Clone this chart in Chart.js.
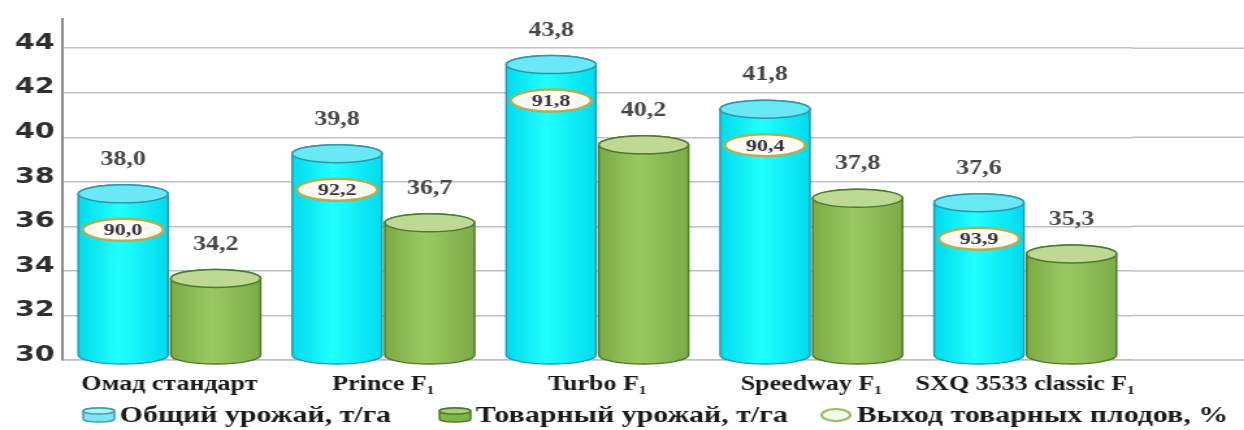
<!DOCTYPE html>
<html>
<head>
<meta charset="utf-8">
<script src="https://cdn.jsdelivr.net/npm/chart.js@4.4.0/dist/chart.umd.min.js"></script>
<style>
html, body { margin: 0; padding: 0; background: #fff; overflow: hidden; }
#wrap { width: 957px; height: 430px; transform: scaleX(1.3); transform-origin: 0 0; }
</style>
</head>
<body>
<div id="wrap"><canvas id="barChart" width="957" height="430"></canvas></div>
<script>
// данные диаграммы
var categories = ["Омад стандарт", "Prince F₁", "Turbo F₁", "Speedway F₁", "SXQ 3533 classic F₁"]
var total_yield = [38.0, 39.8, 43.8, 41.8, 37.6]
var market_yield = [34.2, 36.7, 40.2, 37.8, 35.3]
var market_share = [90.0, 92.2, 91.8, 90.4, 93.9]
var y_ticks = [30, 32, 34, 36, 38, 40, 42, 44]
var series_names = ["Общий урожай, т/га", "Товарный урожай, т/га", "Выход товарных плодов, %"]

var grid_color = "#bcc0ca"
var serif = "'Liberation Serif', 'Times New Roman', serif"

function fmt(v) {
  return v.toFixed(1).replace(".", ",")
}

var cyl_styles = [
  { edge: "#00dbee", mid: "#22ffff", top: "#6ae8f6", line: "#2a97ad" },
  { edge: "#7cab47", mid: "#9bc961", top: "#bdd994", line: "#4e7a2b" },
]

function drawCylinder(ctx, el, base, st) {
  var x = el.x, w = el.width, rx = w / 2, ry = 9
  var topC = el.y + 12
  var botC = base - 5
  var g = ctx.createLinearGradient(x - rx, 0, x + rx, 0)
  g.addColorStop(0, st.edge)
  g.addColorStop(0.45, st.mid)
  g.addColorStop(1, st.edge)
  ctx.beginPath()
  ctx.moveTo(x - rx, topC)
  ctx.lineTo(x - rx, botC)
  ctx.ellipse(x, botC, rx, ry, 0, Math.PI, 0, true)
  ctx.lineTo(x + rx, topC)
  ctx.ellipse(x, topC, rx, ry, 0, 0, Math.PI, true)
  ctx.closePath()
  ctx.fillStyle = g
  ctx.fill()
  ctx.lineWidth = 1.5
  ctx.strokeStyle = st.line
  ctx.stroke()
  ctx.beginPath()
  ctx.ellipse(x, topC, rx, ry, 0, 0, Math.PI * 2)
  ctx.fillStyle = st.top
  ctx.fill()
  ctx.stroke()
}

var gridExtend = {
  id: "gridExtend",
  beforeDatasetsDraw: function (chart) {
    var ctx = chart.ctx
    var y = chart.scales.y
    ctx.save()
    ctx.strokeStyle = grid_color
    ctx.lineWidth = 1.5
    y.ticks.forEach(function (t) {
      var py = y.getPixelForValue(t.value)
      ctx.beginPath()
      ctx.moveTo(chart.chartArea.right, py)
      ctx.lineTo(chart.width, py)
      ctx.stroke()
    })
    ctx.restore()
  },
}

var cylinders = {
  id: "cylinders",
  afterDatasetsDraw: function (chart) {
    var ctx = chart.ctx
    var yScale = chart.scales.y
    var base = yScale.getPixelForValue(yScale.min)
    ctx.save()
    for (var d = 0; d < 2; d++) {
      var meta = chart.getDatasetMeta(d)
      meta.data.forEach(function (el) {
        drawCylinder(ctx, el, base, cyl_styles[d])
      })
    }
    // подписи значений над цилиндрами
    ctx.textAlign = "center"
    ctx.textBaseline = "middle"
    ctx.font = "bold 20px " + serif
    ctx.fillStyle = "#474747"
    for (var k = 0; k < 2; k++) {
      var m = chart.getDatasetMeta(k)
      var vals = chart.data.datasets[k].data
      m.data.forEach(function (el, i) {
        ctx.fillText(fmt(vals[i]), el.x, el.y - 22)
      })
    }
    // выход товарных плодов - овалы на голубых цилиндрах
    var m0 = chart.getDatasetMeta(0)
    var pct = chart.data.datasets[2].data
    m0.data.forEach(function (el, i) {
      var cy = el.y + 48
      ctx.beginPath()
      ctx.ellipse(el.x, cy, 31, 11, 0, 0, Math.PI * 2)
      ctx.fillStyle = "#fffbf2"
      ctx.fill()
      ctx.lineWidth = 2.5
      ctx.strokeStyle = "#aab255"
      ctx.stroke()
      ctx.font = "bold 17px " + serif
      ctx.fillStyle = "#383040"
      ctx.fillText(fmt(pct[i]), el.x, cy + 1)
    })
    ctx.restore()
  },
}

var legendDraw = {
  id: "legendDraw",
  afterDraw: function (chart) {
    var ctx = chart.ctx
    var y = 415
    var starts = [64, 338, 631]
    ctx.save()
    ctx.font = "bold 23px " + serif
    ctx.textBaseline = "middle"
    ctx.textAlign = "left"
    series_names.forEach(function (name, i) {
      var x = starts[i]
      ctx.lineWidth = 1.5
      if (i < 2) {
        var st = i === 0
          ? { body: "#7fe4ef", top: "#b2f0f7", line: "#3a9fb4" }
          : { body: "#7fb446", top: "#a9cf7a", line: "#4d7a2a" }
        ctx.beginPath()
        ctx.moveTo(x, y - 4)
        ctx.lineTo(x, y + 4)
        ctx.ellipse(x + 12, y + 4, 12, 3, 0, Math.PI, 0, true)
        ctx.lineTo(x + 24, y - 4)
        ctx.ellipse(x + 12, y - 4, 12, 3, 0, 0, Math.PI, true)
        ctx.closePath()
        ctx.fillStyle = st.body
        ctx.fill()
        ctx.strokeStyle = st.line
        ctx.stroke()
        ctx.beginPath()
        ctx.ellipse(x + 12, y - 4, 12, 3, 0, 0, Math.PI * 2)
        ctx.fillStyle = st.top
        ctx.fill()
        ctx.stroke()
      } else {
        ctx.beginPath()
        ctx.ellipse(x + 12, y, 11, 6, 0, 0, Math.PI * 2)
        ctx.fillStyle = "#f5f9ea"
        ctx.fill()
        ctx.lineWidth = 2
        ctx.strokeStyle = "#9bb85a"
        ctx.stroke()
      }
      ctx.fillStyle = "#1a1a1a"
      ctx.fillText(name, x + 28, y + 1)
    })
    ctx.restore()
  },
}

var ctx = document.getElementById("barChart")
var chart_bar = new Chart(ctx, {
  type: "bar",
  plugins: [gridExtend, cylinders, legendDraw],
  data: {
    labels: categories,
    datasets: [
      {
        label: series_names[0],
        data: total_yield,
        backgroundColor: "rgba(0,0,0,0)",
        borderWidth: 0,
        barPercentage: 0.97,
        categoryPercentage: 0.865,
      },
      {
        label: series_names[1],
        data: market_yield,
        backgroundColor: "rgba(0,0,0,0)",
        borderWidth: 0,
        barPercentage: 0.97,
        categoryPercentage: 0.865,
      },
      {
        type: "line",
        label: series_names[2],
        data: market_share,
        yAxisID: "yPct",
        showLine: false,
        pointRadius: 0,
        pointHoverRadius: 0,
      },
    ],
  },
  options: {
    responsive: false,
    animation: false,
    devicePixelRatio: 1,
    layout: { padding: { top: 13, right: 86, left: 0, bottom: 0 } },
    scales: {
      x: {
        grid: { display: false },
        border: { color: grid_color, width: 1.5 },
        afterFit: function (s) {
          s.height = 70
        },
        ticks: {
          padding: 5,
          color: "#1a1a1a",
          maxRotation: 0,
          autoSkip: false,
          font: { family: serif, size: 20, weight: "bold" },
        },
      },
      y: {
        min: 30,
        max: 45.3,
        afterFit: function (s) {
          s.width = 48
        },
        afterBuildTicks: function (s) {
          s.ticks = y_ticks.map(function (v) {
            return { value: v }
          })
        },
        grid: { color: grid_color, lineWidth: 1.5, drawTicks: false },
        border: { color: "#8a8a8a", width: 2 },
        ticks: {
          padding: 6,
          labelOffset: -5,
          color: "#2e2e2e",
          font: { family: "'DejaVu Sans', sans-serif", size: 22, weight: "bold" },
        },
      },
      yPct: {
        display: false,
        min: 0,
        max: 100,
      },
    },
    plugins: {
      legend: { display: false },
      tooltip: { enabled: false },
    },
  },
})
</script>
</body>
</html>
